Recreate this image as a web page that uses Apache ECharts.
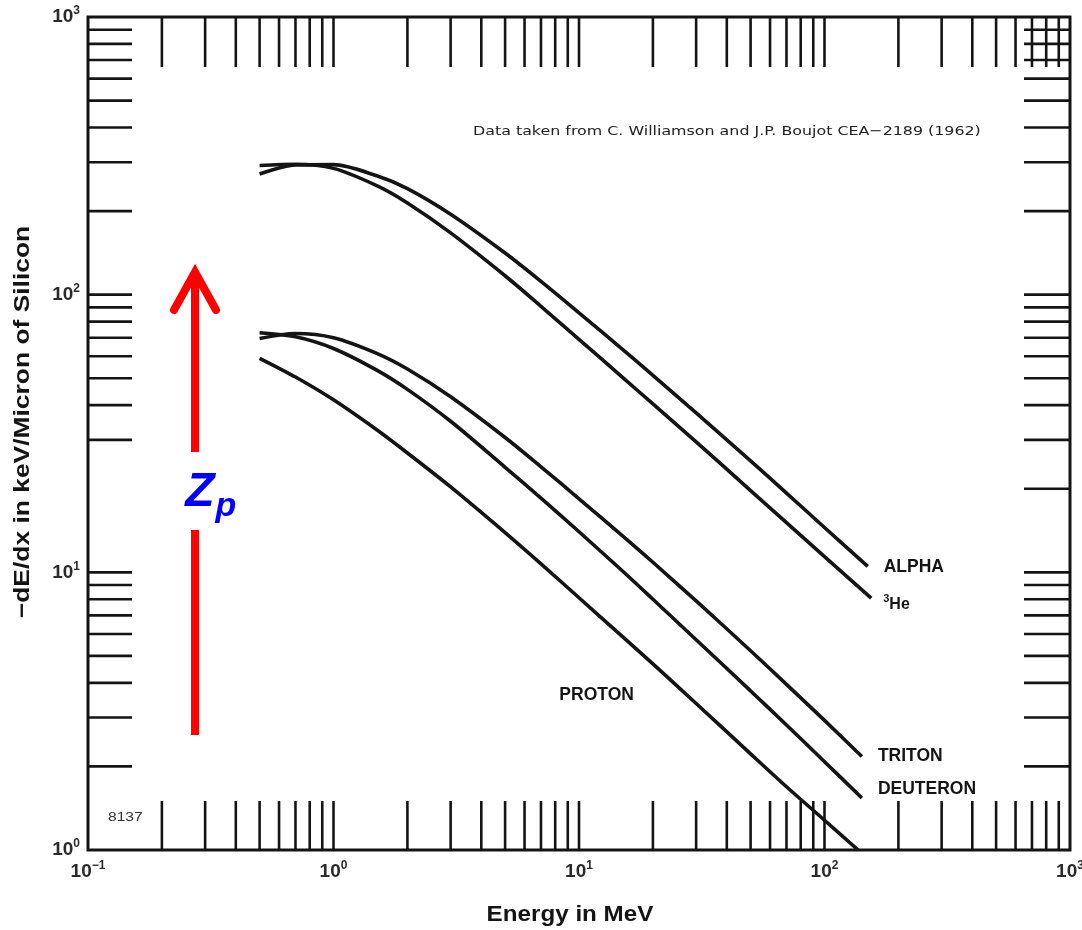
<!DOCTYPE html>
<html>
<head>
<meta charset="utf-8">
<script src="https://cdn.jsdelivr.net/npm/echarts@6/dist/echarts.min.js"></script>
<style>
  html, body { margin: 0; padding: 0; background: #fff; }
  #main { width: 1082px; height: 930px; }
</style>
</head>
<body>
<div id="main"></div>
<script>
// energy (MeV) and -dE/dx (keV/micron)
const alphaE = [0.5, 0.7, 1, 1.5, 2, 3, 5, 7, 10, 15, 20, 30, 50, 70, 100, 150];
const alphaV = [272, 293, 294, 268, 241, 194.8, 141.2, 111.6, 86, 63.7, 51.2, 37.5, 25.2, 19.3, 14.5, 10.5];

const heE = [0.5, 0.7, 1, 1.5, 2, 3, 5, 7, 10, 15, 20, 30, 50, 70, 100, 155];
const heV = [292, 295, 285, 247, 214, 167, 117, 90.8, 69, 50.5, 40.4, 29.5, 19.7, 15.1, 11.4, 8.07];

const tritonE = [0.5, 0.7, 1, 1.5, 2, 3, 5, 7, 10, 15, 20, 30, 50, 70, 100, 142];
const tritonV = [69.5, 72.5, 70, 61.5, 54, 42.9, 30.6, 24, 18.4, 13.56, 10.87, 7.89, 5.22, 3.95, 2.93, 2.17];

const deutE = [0.5, 0.7, 1, 1.5, 2, 3, 5, 7, 10, 15, 20, 30, 50, 70, 100, 142];
const deutV = [72.9, 70.5, 64, 53.5, 45.6, 35, 23.9, 18.5, 14, 10.13, 8, 5.72, 3.74, 2.82, 2.08, 1.54];

const protonE = [0.5, 0.7, 1, 1.5, 2, 3, 5, 7, 10, 15, 20, 30, 50, 70, 100, 137];
const protonV = [59, 50.5, 41.8, 32.6, 26.9, 20.3, 13.9, 10.73, 8.1, 5.88, 4.68, 3.37, 2.22, 1.69, 1.28, 1.0];

// graph-paper tick marks along each edge
const leftTicks = [2, 3, 4, 5, 6, 7, 8, 9, 10, 30, 40, 50, 60, 70, 80, 90, 100, 200, 300, 400, 500, 600, 700, 800, 900];
const rightTicks = [2, 3, 4, 5, 6, 7, 8, 9, 10, 20, 30, 40, 50, 60, 70, 80, 90, 100, 200, 300, 400, 500, 600, 700, 800, 900];
const topTicks = [0.2, 0.3, 0.4, 0.5, 0.6, 0.7, 0.8, 0.9, 1, 2, 3, 4, 5, 6, 7, 8, 9, 10, 20, 30, 40, 50, 60, 70, 80, 90, 100, 200, 300, 400, 500, 600, 700, 800, 900];
const bottomTicks = [0.2, 0.3, 0.4, 0.5, 0.6, 0.7, 0.8, 0.9, 1, 2, 3, 4, 5, 6, 7, 8, 9, 10, 20, 30, 40, 50, 60, 70, 80, 90, 100, 200, 300, 400, 500, 600, 700, 800, 900];

const xMin = 0.1, xMax = 1000, yMin = 1, yMax = 1000;

var chartDom = document.getElementById('main');
var myChart = echarts.init(chartDom);

const FONT = '"Liberation Sans", Arial, sans-serif';
const INK = '#141414';

function pairs(xs, ys) {
    return xs.map((x, i) => [x, ys[i]]);
}

function powLabel(value) {
    const e = Math.round(Math.log10(value));
    return '{b|10}{s|' + (e < 0 ? '\u2212' + (-e) : e) + '}';
}

const powRich = {
    b: { fontSize: 19, fontWeight: 'bold', color: '#2a2a2a', lineHeight: 24, fontFamily: FONT },
    s: { fontSize: 12, fontWeight: 'bold', color: '#2a2a2a', lineHeight: 12, verticalAlign: 'top', fontFamily: FONT }
};

function tickSeries(side, values, len) {
    const data = values.map(v => {
        if (side === 'left') return [xMin, v];
        if (side === 'right') return [xMax, v];
        if (side === 'top') return [v, yMax];
        return [v, yMin];
    });
    return {
        type: 'custom',
        silent: true,
        clip: false,
        encode: { x: 0, y: 1 },
        data: data,
        renderItem: function (params, api) {
            const p = api.coord([api.value(0), api.value(1)]);
            let q;
            if (side === 'left') q = [p[0] + len, p[1]];
            else if (side === 'right') q = [p[0] - len, p[1]];
            else if (side === 'top') q = [p[0], p[1] + len];
            else q = [p[0], p[1] - len];
            return {
                type: 'line',
                shape: { x1: p[0], y1: p[1], x2: q[0], y2: q[1] },
                style: { stroke: INK, lineWidth: 2.6 }
            };
        }
    };
}

const labelFont = { color: INK, fontSize: 17.5, fontWeight: 'bold', fontFamily: FONT };

function curve(name, xs, ys, endLabel) {
    return {
        name: name,
        type: 'line',
        data: pairs(xs, ys),
        smooth: 0.3,
        showSymbol: false,
        silent: true,
        lineStyle: { color: INK, width: 3.6 },
        endLabel: Object.assign({ show: true, distance: 16 }, labelFont, endLabel)
    };
}

var option = {
    backgroundColor: '#fff',
    animation: false,
    textStyle: { fontFamily: FONT },
    grid: {
        left: 88, right: 12, top: 17, bottom: 80,
        outerBoundsMode: 'none',
        containLabel: false,
        show: true, borderColor: INK, borderWidth: 3
    },
    xAxis: {
        type: 'log', logBase: 10, min: xMin, max: xMax,
        axisLine: { show: false },
        axisTick: { show: false },
        splitLine: { show: false },
        axisLabel: { margin: 10, formatter: powLabel, rich: powRich, hideOverlap: false }
    },
    yAxis: {
        type: 'log', logBase: 10, min: yMin, max: yMax,
        axisLine: { show: false },
        axisTick: { show: false },
        splitLine: { show: false },
        axisLabel: { margin: 8, formatter: powLabel, rich: powRich }
    },
    series: [
        tickSeries('left', leftTicks, 44),
        tickSeries('right', rightTicks, 46),
        tickSeries('top', topTicks, 50),
        tickSeries('bottom', bottomTicks, 49),
        curve('ALPHA', alphaE, alphaV, { formatter: 'ALPHA', offset: [0, 1] }),
        curve('3He', heE, heV, {
            formatter: '{s|3}{b|He}', distance: 12, offset: [0, 6],
            rich: {
                s: { fontSize: 11, fontWeight: 'bold', color: INK, lineHeight: 10, verticalAlign: 'top', fontFamily: FONT },
                b: { fontSize: 16, fontWeight: 'bold', color: INK, lineHeight: 22, fontFamily: FONT }
            }
        }),
        curve('TRITON', tritonE, tritonV, { formatter: 'TRITON', offset: [0, 0] }),
        curve('DEUTERON', deutE, deutV, { formatter: 'DEUTERON', offset: [0, -9] }),
        Object.assign(curve('PROTON', protonE, protonV, { show: false }), {
            markPoint: {
                silent: true,
                symbol: 'circle',
                symbolSize: 1,
                itemStyle: { color: 'rgba(0,0,0,0)' },
                label: Object.assign({ show: true, position: 'inside', formatter: 'PROTON' }, labelFont),
                data: [{ coord: [11.8, 3.62] }]
            }
        })
    ],
    graphic: [
        {
            type: 'text', x: 473, y: 132, scaleX: 1.22, silent: true,
            style: {
                text: 'Data taken from C. Williamson and J.P. Boujot CEA\u22122189 (1962)',
                font: '13px "DejaVu Sans", sans-serif', fill: '#222', verticalAlign: 'middle'
            }
        },
        {
            type: 'text', x: 108, y: 818, scaleX: 1.3, silent: true,
            style: { text: '8137', font: '12px "Liberation Sans", Arial, sans-serif', fill: '#333', verticalAlign: 'middle' }
        },
        // axis titles
        {
            type: 'text', x: 570, y: 915, scaleX: 1.1, silent: true,
            style: {
                text: 'Energy in MeV', font: 'bold 22px "Liberation Sans", Arial, sans-serif',
                fill: INK, align: 'center', verticalAlign: 'middle'
            }
        },
        {
            type: 'text', x: 23, y: 422, rotation: Math.PI / 2, scaleX: 1.2, silent: true,
            style: {
                text: '\u2212dE/dx in keV/Micron of Silicon', font: 'bold 22px "Liberation Sans", Arial, sans-serif',
                fill: INK, align: 'center', verticalAlign: 'middle'
            }
        },
        // red arrow with Z_p annotation
        {
            type: 'group', silent: true,
            children: [
                { type: 'line', shape: { x1: 195, y1: 452, x2: 195, y2: 274 }, style: { stroke: '#ff0000', lineWidth: 8 } },
                { type: 'line', shape: { x1: 195, y1: 530, x2: 195, y2: 735 }, style: { stroke: '#ff0000', lineWidth: 8 } },
                { type: 'polyline', shape: { points: [[174, 310], [195, 272], [216, 310]] }, style: { stroke: '#ff0000', fill: null, lineWidth: 8, lineCap: 'round', lineJoin: 'miter' } },
                { type: 'text', x: 200, y: 493, style: { text: 'Z', font: 'italic bold 48px "Liberation Sans", Arial, sans-serif', fill: '#0000ff', align: 'center', verticalAlign: 'middle' } },
                { type: 'text', x: 226, y: 507, style: { text: 'p', font: 'italic bold 34px "Liberation Sans", Arial, sans-serif', fill: '#0000ff', align: 'center', verticalAlign: 'middle' } }
            ]
        }
    ]
};

myChart.setOption(option);
</script>
</body>
</html>
